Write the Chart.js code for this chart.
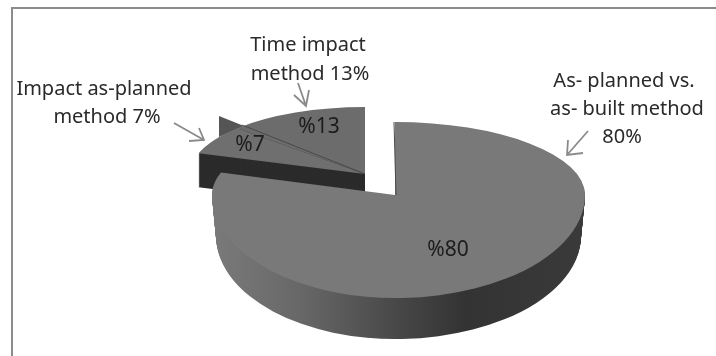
<!DOCTYPE html>
<html>
<head>
<meta charset="utf-8">
<title>Delay analysis methods</title>
<script src="https://cdn.jsdelivr.net/npm/chart.js@4"></script>
<style>
  html, body { margin: 0; padding: 0; background: #fff; }
  canvas { display: block; }
</style>
</head>
<body>
<canvas id="methodsChart" width="716" height="356"></canvas>
<script>
// values
const categories = ['As-planned vs. as-built method', 'Impact as-planned method', 'Time impact method'];
const shares = [80, 7, 13];
const sliceColors = ['#797979', '#6f6f6f', '#6c6c6c'];
const valueLabels = shares.map(v => '%' + v);
const calloutLines = [
    ['As- planned vs.', 'as- built method', shares[0] + '%'],
    ['Impact as-planned', 'method ' + shares[1] + '%'],
    ['Time impact', 'method ' + shares[2] + '%']
];

// where the flattened pie pieces sit on the page (exploded, so two centres)
const mainPiece = { cx: 395, cy: 195, rxL: 183, rxR: 190, ryU: 73, ryD: 103, depth: 41, shrink: 4 };
const smallPiece = { cx: 365, cy: 174, rxL: 175, rxR: 175, ryU: 67, ryD: 67, depth: 34, shrink: 0 };

const valuePos = [[448, 250], [250, 145], [319, 127]];
const calloutPos = [
    [[624, 87], [627, 115], [622, 143]],
    [[104, 95], [107, 123]],
    [[308, 51], [310, 80]]
];
const arrows = [
    { from: [588, 131], tip: [567, 155], barbs: [[568, 140], [583, 153]] },
    { from: [174, 123], tip: [204, 140], barbs: [[189, 141], [199, 128]] },
    { from: [298, 83], tip: [306, 106], barbs: [[294, 95], [309, 90]] }
];

const textFont = '"Noto Sans", sans-serif';

// Chart.js only does flat circles, so squash each arc with a canvas transform, one quadrant at a time
function drawArcSquashed(ctx, arc, piece, shift, fill) {
    const R = arc.outerRadius;
    const W = ctx.canvas.width, H = ctx.canvas.height;
    const cy = piece.cy + shift;
    const t = piece.depth ? shift / piece.depth : 0;
    const saved = arc.options;
    [[0, piece.rxL - piece.shrink * t], [1, piece.rxR - piece.shrink * t]].forEach(([right, rx]) => {
        [[0, piece.ryU], [1, piece.ryD]].forEach(([lower, ry]) => {
            ctx.save();
            ctx.beginPath();
            ctx.rect(right ? piece.cx : 0, lower ? cy : 0, right ? W - piece.cx : piece.cx, lower ? H - cy : cy);
            ctx.clip();
            ctx.translate(piece.cx, cy);
            ctx.scale(rx / R, ry / R);
            ctx.translate(-arc.x, -arc.y);
            const color = typeof fill === 'function' ? fill(ctx, arc, piece, rx / R) : fill;
            arc.options = Object.assign({}, saved, { backgroundColor: color, borderWidth: 0 });
            arc.draw(ctx);
            ctx.restore();
        });
    });
    arc.options = saved;
}

// dark rim of the big slice, lit from the left
function rimGradient(ctx, arc, piece, k) {
    const toLocal = px => arc.x + (px - piece.cx) / k;
    const g = ctx.createLinearGradient(toLocal(213), 0, toLocal(585), 0);
    g.addColorStop(0, '#7a7a7a');
    g.addColorStop(0.25, '#666666');
    g.addColorStop(0.5, '#474747');
    g.addColorStop(0.68, '#333333');
    g.addColorStop(1, '#3a3a3a');
    return g;
}

function extrude(ctx, arc, piece, fill) {
    for (let s = piece.depth; s > 0; s--) {
        drawArcSquashed(ctx, arc, piece, s, fill);
    }
}

const pie3dPlugin = {
    id: 'pie3d',
    beforeDatasetsDraw(chart) {
        const ctx = chart.ctx;
        const arcs = chart.getDatasetMeta(0).data;

        // 7% and 13% go first, the big slice overlaps them
        extrude(ctx, arcs[2], smallPiece, '#2b2b2b');
        extrude(ctx, arcs[1], smallPiece, '#2b2b2b');

        // small dark fin behind the 7% slice
        ctx.fillStyle = '#555555';
        ctx.beginPath();
        ctx.moveTo(219, 116);
        ctx.lineTo(244, 126);
        ctx.lineTo(219, 137);
        ctx.closePath();
        ctx.fill();

        drawArcSquashed(ctx, arcs[1], smallPiece, 0, sliceColors[1]);
        drawArcSquashed(ctx, arcs[2], smallPiece, 0, sliceColors[2]);

        // divider between 7% and 13%
        ctx.strokeStyle = '#3f3f3f';
        ctx.lineWidth = 0.8;
        ctx.beginPath();
        ctx.moveTo(smallPiece.cx, smallPiece.cy);
        ctx.lineTo(242, 125);
        ctx.stroke();

        extrude(ctx, arcs[0], mainPiece, rimGradient);
        drawArcSquashed(ctx, arcs[0], mainPiece, 0, sliceColors[0]);

        // thin wall on the cut edge of the big slice
        ctx.strokeStyle = '#4a4a4a';
        ctx.lineWidth = 1;
        ctx.beginPath();
        ctx.moveTo(mainPiece.cx - 1, mainPiece.cy - mainPiece.ryU);
        ctx.lineTo(mainPiece.cx + 1, mainPiece.cy);
        ctx.stroke();
        return false;
    },
    afterDraw(chart) {
        const ctx = chart.ctx;
        ctx.save();

        // frame, only top and left show in the source
        ctx.strokeStyle = '#8c8c8c';
        ctx.lineWidth = 2;
        ctx.beginPath();
        ctx.moveTo(12, 356);
        ctx.lineTo(12, 8);
        ctx.lineTo(716, 8);
        ctx.stroke();

        ctx.strokeStyle = '#8a8a8a';
        ctx.lineWidth = 1.8;
        arrows.forEach(a => {
            ctx.beginPath();
            ctx.moveTo(a.from[0], a.from[1]);
            ctx.lineTo(a.tip[0], a.tip[1]);
            ctx.moveTo(a.barbs[0][0], a.barbs[0][1]);
            ctx.lineTo(a.tip[0], a.tip[1]);
            ctx.lineTo(a.barbs[1][0], a.barbs[1][1]);
            ctx.stroke();
        });

        ctx.textAlign = 'center';
        ctx.textBaseline = 'alphabetic';
        ctx.fillStyle = '#2a2a2a';
        ctx.font = '20px ' + textFont;
        calloutLines.forEach((lines, i) => {
            lines.forEach((line, j) => {
                ctx.fillText(line, calloutPos[i][j][0], calloutPos[i][j][1]);
            });
        });

        ctx.textBaseline = 'middle';
        ctx.fillStyle = '#1c1c1c';
        ctx.font = '21px ' + textFont;
        valueLabels.forEach((txt, i) => {
            ctx.fillText(txt, valuePos[i][0], valuePos[i][1]);
        });
        ctx.restore();
    }
};

const ctx = document.getElementById('methodsChart').getContext('2d');
const methodsChart = new Chart(ctx, {
    type: 'pie',
    data: {
        labels: categories,
        datasets: [{
            data: shares,
            backgroundColor: sliceColors,
            borderWidth: 0
        }]
    },
    options: {
        responsive: false,
        animation: false,
        plugins: {
            legend: { display: false },
            tooltip: { enabled: false }
        }
    },
    plugins: [pie3dPlugin]
});
</script>
</body>
</html>
